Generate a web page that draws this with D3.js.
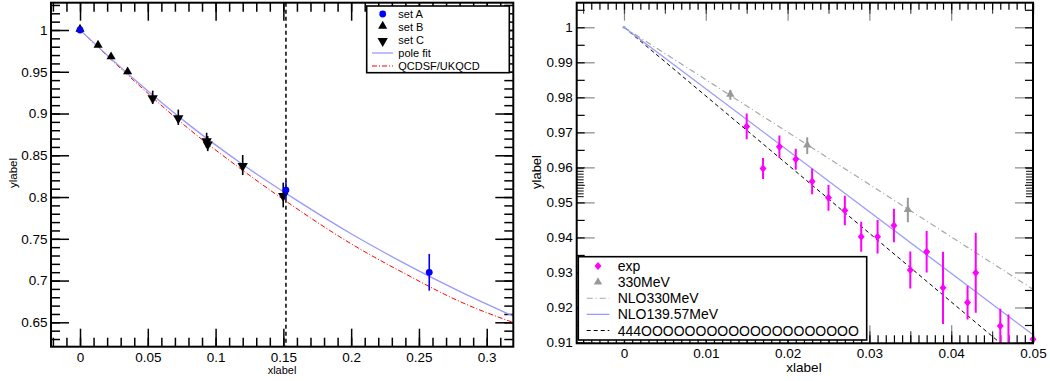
<!DOCTYPE html>
<html>
<head>
<meta charset="utf-8">
<title>form factor</title>
<style>
body { margin: 0; background: #fff; }
svg { display: block; font-family: "Liberation Sans", Arial, sans-serif; }
</style>
</head>
<body>
<svg class="chart"></svg>
<script src="https://cdn.jsdelivr.net/npm/d3@7"></script>
<script>
// ---- left panel data ----
var setA = [[0, 1, 0], [0.1519, 0.8084, 0.011], [0.2576, 0.7099, 0.022]];
var setB = [[0, 1, 0], [0.0133, 0.9808, 0], [0.0229, 0.9669, 0], [0.0351, 0.9489, 0]];
var setC = [[0.0536, 0.9194, 0.008], [0.0725, 0.8955, 0.0092], [0.0934, 0.868, 0.009],
            [0.0942, 0.864, 0.009], [0.12, 0.8383, 0.012], [0.1499, 0.8024, 0.0148]];
var poleFit = [[0, 1], [0.04, 0.941], [0.08, 0.887], [0.12, 0.839], [0.16, 0.796],
               [0.2, 0.756], [0.24, 0.72], [0.28, 0.687], [0.32, 0.657]];
var qcdsf = [[0, 1], [0.04, 0.939], [0.08, 0.882], [0.12, 0.832], [0.16, 0.786],
             [0.2, 0.744], [0.24, 0.708], [0.28, 0.675], [0.32, 0.6495]];
var cutX = 0.1519;
var xTicksL = [0, 0.05, 0.1, 0.15, 0.2, 0.25, 0.3];
var xLabelsL = ["0", "0.05", "0.1", "0.15", "0.2", "0.25", "0.3"];
var yTicksL = [0.65, 0.7, 0.75, 0.8, 0.85, 0.9, 0.95, 1];
var yLabelsL = ["0.65", "0.7", "0.75", "0.8", "0.85", "0.9", "0.95", "1"];
var legendL = ["set A", "set B", "set C", "pole fit", "QCDSF/UKQCD"];

// ---- right panel data ----
var expX = [0.015, 0.017, 0.019, 0.021, 0.023, 0.025, 0.027, 0.029, 0.031, 0.033,
            0.035, 0.037, 0.039, 0.042, 0.043, 0.046, 0.047, 0.05];
var expY = [0.9717, 0.9597, 0.9659, 0.9623, 0.956, 0.9513, 0.9477, 0.9402, 0.9402, 0.9434,
            0.9307, 0.9359, 0.9256, 0.9214, 0.9299, 0.9147, 0.9085, 0.9109];
var expErr = [0.0037, 0.003, 0.0032, 0.003, 0.0037, 0.0037, 0.0042, 0.0043, 0.0048, 0.0048,
              0.0053, 0.0059, 0.0103, 0.0048, 0.0114, 0.0049, 0.0095, 0.0052];
var m330X = [0.013, 0.0224, 0.0347];
var m330Y = [0.9807, 0.9662, 0.9478];
var m330Err = [0.0014, 0.0024, 0.0035];
var nlo330 = [[0, 1], [0.05, 0.9252]];
var nlo139 = [[0, 1], [0.05, 0.9122]];
var line444 = [[0, 1], [0.05, 0.902]];
var xTicksR = [0, 0.01, 0.02, 0.03, 0.04, 0.05];
var xLabelsR = ["0", "0.01", "0.02", "0.03", "0.04", "0.05"];
var yTicksR = [0.91, 0.92, 0.93, 0.94, 0.95, 0.96, 0.97, 0.98, 0.99, 1];
var yLabelsR = ["0.91", "0.92", "0.93", "0.94", "0.95", "0.96", "0.97", "0.98", "0.99", "1"];
var legendR = ["exp", "330MeV", "NLO330MeV", "NLO139.57MeV", "444OOOOOOOOOOOOOOOOOOOO"];

var svg = d3.select('.chart').attr('width', 1050).attr('height', 381);

function tickSet(g, scale, axisFn, values, len, pos, color, w) {
    g.append('g')
        .attr('transform', pos)
        .call(axisFn(scale).tickValues(values).tickSize(-len).tickFormat(''))
        .call(function(s) { s.select('.domain').remove(); })
        .selectAll('line').attr('stroke', color).attr('stroke-width', w || 1.2);
}

function labels(g, scale, axisFn, values, texts, pos, pad, size) {
    g.append('g')
        .attr('transform', pos)
        .call(axisFn(scale).tickValues(values).tickSize(0).tickPadding(pad)
            .tickFormat(function(d, i) { return texts[i]; }))
        .call(function(s) { s.select('.domain').remove(); })
        .selectAll('text').attr('fill', '#000').style('font-size', size + 'px')
        .style('font-family', '"Liberation Sans", Arial, sans-serif');
}

function inDomain(scale, arr) {
    var d = scale.domain();
    return arr.filter(function(v) { return v >= d[0] - 1e-9 && v <= d[1] + 1e-9; });
}

// ================= LEFT PANEL =================
var xL = d3.scaleLinear().domain([-0.0214, 0.3196]).range([51, 513.3]);
var yL = d3.scaleLinear().domain([0.6208, 1.0327]).range([346.7, 2.7]);
var gL = svg.append('g');

gL.append('clipPath').attr('id', 'clipL').append('rect')
    .attr('x', 51).attr('y', 2.7).attr('width', 462.3).attr('height', 344);

var minorXL = inDomain(xL, d3.range(-0.02, 0.33, 0.01));
var minorYL = inDomain(yL, d3.range(0.62, 1.04, 0.01));
tickSet(gL, xL, d3.axisBottom, minorXL, 9, 'translate(0,346.7)', '#000', 1.5);
tickSet(gL, xL, d3.axisBottom, xTicksL, 18, 'translate(0,346.7)', '#000', 1.5);
tickSet(gL, xL, d3.axisTop, minorXL, 9, 'translate(0,2.7)', '#000', 1.5);
tickSet(gL, xL, d3.axisTop, xTicksL, 18, 'translate(0,2.7)', '#000', 1.5);
tickSet(gL, yL, d3.axisLeft, minorYL, 9, 'translate(51,0)', '#000', 1.5);
tickSet(gL, yL, d3.axisLeft, yTicksL, 18, 'translate(51,0)', '#000', 1.5);
tickSet(gL, yL, d3.axisRight, minorYL, 9, 'translate(513.3,0)', '#000', 1.5);
tickSet(gL, yL, d3.axisRight, yTicksL, 18, 'translate(513.3,0)', '#000', 1.5);
labels(gL, xL, d3.axisBottom, xTicksL, xLabelsL, 'translate(0,346.7)', 5.5, 13.5);
labels(gL, yL, d3.axisLeft, yTicksL, yLabelsL, 'translate(51,0)', 3.5, 13.5);

var lineL = d3.line().x(function(d) { return xL(d[0]); }).y(function(d) { return yL(d[1]); })
    .curve(d3.curveMonotoneX);
var curvesL = gL.append('g').attr('clip-path', 'url(#clipL)');
curvesL.append('line')
    .attr('x1', xL(cutX)).attr('x2', xL(cutX)).attr('y1', 2.7).attr('y2', 346.7)
    .attr('stroke', '#000').attr('stroke-width', 1.5).attr('stroke-dasharray', '4,3');
curvesL.append('path').attr('d', lineL(qcdsf)).attr('fill', 'none')
    .attr('stroke', '#ff0000').attr('stroke-width', 1).attr('stroke-dasharray', '5,2,1,2');
curvesL.append('path').attr('d', lineL(poleFit)).attr('fill', 'none')
    .attr('stroke', '#9999ff').attr('stroke-width', 1.3);

function errBars(g, pts, xs, ys, color, w) {
    g.selectAll(null).data(pts.filter(function(p) { return p[2] > 0; })).enter()
        .append('line')
        .attr('x1', function(d) { return xs(d[0]); }).attr('x2', function(d) { return xs(d[0]); })
        .attr('y1', function(d) { return ys(d[1] - d[2]); })
        .attr('y2', function(d) { return ys(d[1] + d[2]); })
        .attr('stroke', color).attr('stroke-width', w);
}

var triUp = d3.symbol().type(d3.symbolTriangle).size(36);
var triDown = d3.symbol().type(d3.symbolTriangle).size(46);

errBars(gL, setC, xL, yL, '#000', 1.6);
gL.selectAll(null).data(setB).enter().append('path')
    .attr('d', triUp())
    .attr('transform', function(d) { return 'translate(' + xL(d[0]) + ',' + (yL(d[1]) - 1) + ')'; })
    .attr('fill', '#000');
gL.selectAll(null).data(setC).enter().append('path')
    .attr('d', triDown())
    .attr('transform', function(d) { return 'translate(' + xL(d[0]) + ',' + (yL(d[1]) + 1) + ') rotate(180)'; })
    .attr('fill', '#000');
errBars(gL, setA, xL, yL, '#0000ff', 1.6);
gL.selectAll(null).data(setA).enter().append('circle')
    .attr('cx', function(d) { return xL(d[0]); })
    .attr('cy', function(d) { return yL(d[1]); })
    .attr('r', 3.4).attr('fill', '#0000ff');

gL.append('rect').attr('x', 51).attr('y', 2.7).attr('width', 462.3).attr('height', 344)
    .attr('fill', 'none').attr('stroke', '#000').attr('stroke-width', 2);

// left legend
var legL = gL.append('g');
legL.append('rect').attr('x', 366.7).attr('y', 6).attr('width', 142.6).attr('height', 66.7)
    .attr('fill', '#fff').attr('stroke', '#000').attr('stroke-width', 1.6);
var rowL = d3.scaleLinear().domain([0, 4]).range([14, 66]);
legL.append('circle').attr('cx', 382.7).attr('cy', rowL(0)).attr('r', 3.4).attr('fill', '#0000ff');
legL.append('path').attr('d', triUp()).attr('fill', '#000')
    .attr('transform', 'translate(382.7,' + (rowL(1) - 1) + ')');
legL.append('path').attr('d', triDown()).attr('fill', '#000')
    .attr('transform', 'translate(382.7,' + (rowL(2) + 1) + ') rotate(180)');
legL.append('line').attr('x1', 372).attr('x2', 393).attr('y1', rowL(3)).attr('y2', rowL(3))
    .attr('stroke', '#9999ff').attr('stroke-width', 1.3);
legL.append('line').attr('x1', 372).attr('x2', 393).attr('y1', rowL(4)).attr('y2', rowL(4))
    .attr('stroke', '#ff0000').attr('stroke-width', 1).attr('stroke-dasharray', '5,2,1,2');
legL.selectAll(null).data(legendL).enter().append('text')
    .attr('x', 398.3).attr('y', function(d, i) { return rowL(i) + 4; })
    .style('font-size', '11px').text(function(d) { return d; });

gL.append('text').attr('x', 282).attr('y', 374).attr('text-anchor', 'middle')
    .style('font-size', '11px').text('xlabel');
gL.append('text').attr('transform', 'translate(16.5,173) rotate(-90)').attr('text-anchor', 'middle')
    .style('font-size', '11.5px').text('ylabel');

// ================= RIGHT PANEL =================
var xR = d3.scaleLinear().domain([-0.00578, 0.05]).range([576.7, 1033]);
var yR = d3.scaleLinear().domain([0.90977, 1.00702]).range([343.3, 2.7]);
var gR = svg.append('g');

gR.append('clipPath').attr('id', 'clipR').append('rect')
    .attr('x', 576.7).attr('y', 2.7).attr('width', 456.3).attr('height', 340.6);

var minorXR = inDomain(xR, d3.range(-0.005, 0.0505, 0.001));
var midXR = inDomain(xR, d3.range(-0.005, 0.0505, 0.005));
var minorYR = inDomain(yR, d3.range(0.91, 1.0075, 0.005));
var denseYR = d3.range(0.9518, 0.96, 0.0008);
tickSet(gR, xR, d3.axisBottom, xTicksR, 18, 'translate(0,343.3)', '#888');
tickSet(gR, xR, d3.axisBottom, midXR, 12, 'translate(0,343.3)', '#444');
tickSet(gR, xR, d3.axisBottom, minorXR, 8, 'translate(0,343.3)', '#000');
tickSet(gR, xR, d3.axisTop, xTicksR, 18, 'translate(0,2.7)', '#888');
tickSet(gR, xR, d3.axisTop, midXR, 11, 'translate(0,2.7)', '#444');
tickSet(gR, xR, d3.axisTop, minorXR, 7, 'translate(0,2.7)', '#000');
tickSet(gR, yR, d3.axisLeft, yTicksR, 18, 'translate(576.7,0)', '#888');
tickSet(gR, yR, d3.axisLeft, minorYR, 8, 'translate(576.7,0)', '#000');
tickSet(gR, yR, d3.axisLeft, denseYR, 7, 'translate(576.7,0)', '#333');
tickSet(gR, yR, d3.axisRight, yTicksR, 18, 'translate(1033,0)', '#888');
tickSet(gR, yR, d3.axisRight, minorYR, 8, 'translate(1033,0)', '#000');
tickSet(gR, yR, d3.axisRight, denseYR, 7, 'translate(1033,0)', '#333');
labels(gR, xR, d3.axisBottom, xTicksR, xLabelsR, 'translate(0,343.3)', 5, 13.5);
labels(gR, yR, d3.axisLeft, yTicksR, yLabelsR, 'translate(576.7,0)', 4, 13.5);

var lineR = d3.line().x(function(d) { return xR(d[0]); }).y(function(d) { return yR(d[1]); });
var curvesR = gR.append('g').attr('clip-path', 'url(#clipR)');
curvesR.append('path').attr('d', lineR(nlo330)).attr('fill', 'none')
    .attr('stroke', '#a8a8a8').attr('stroke-width', 1.2).attr('stroke-dasharray', '6,3,1,3');
curvesR.append('path').attr('d', lineR(line444)).attr('fill', 'none')
    .attr('stroke', '#000').attr('stroke-width', 1).attr('stroke-dasharray', '4,3');
curvesR.append('path').attr('d', lineR(nlo139)).attr('fill', 'none')
    .attr('stroke', '#9999ff').attr('stroke-width', 1.3);
curvesR.append('circle').attr('cx', xR(0)).attr('cy', yR(1)).attr('r', 1.5).attr('fill', '#9999ff');

var expPts = expX.map(function(x, i) { return [x, expY[i], expErr[i]]; });
var m330Pts = m330X.map(function(x, i) { return [x, m330Y[i], m330Err[i]]; });
var barsR = gR.append('g').attr('clip-path', 'url(#clipR)');
errBars(barsR, m330Pts, xR, yR, '#999', 2);
errBars(barsR, expPts, xR, yR, '#ff00ff', 2);

var triGrey = d3.symbol().type(d3.symbolTriangle).size(30);
var diamond = d3.symbol().type(d3.symbolSquare).size(24);
gR.selectAll(null).data(m330Pts).enter().append('path')
    .attr('d', triGrey())
    .attr('transform', function(d) { return 'translate(' + xR(d[0]) + ',' + (yR(d[1]) - 0.5) + ')'; })
    .attr('fill', '#999');
gR.selectAll(null).data(expPts.filter(function(d) { return d[1] >= 0.9098; })).enter().append('path')
    .attr('d', diamond())
    .attr('transform', function(d) { return 'translate(' + xR(d[0]) + ',' + yR(d[1]) + ') scale(1,1.15) rotate(45)'; })
    .attr('fill', '#ff00ff');

gR.append('rect').attr('x', 576.7).attr('y', 2.7).attr('width', 456.3).attr('height', 340.6)
    .attr('fill', 'none').attr('stroke', '#000').attr('stroke-width', 2);

// right legend
var legR = gR.append('g');
legR.append('rect').attr('x', 578.3).attr('y', 256.7).attr('width', 288.4).attr('height', 83.3)
    .attr('fill', '#fff').attr('stroke', '#000').attr('stroke-width', 1.6);
var rowR = d3.scaleLinear().domain([0, 4]).range([266, 330.5]);
legR.append('path').attr('d', diamond()).attr('fill', '#ff00ff')
    .attr('transform', 'translate(598,' + rowR(0) + ') scale(1,1.15) rotate(45)');
legR.append('path').attr('d', triGrey()).attr('fill', '#999')
    .attr('transform', 'translate(598,' + rowR(1) + ')');
legR.append('line').attr('x1', 586.7).attr('x2', 609.3).attr('y1', rowR(2)).attr('y2', rowR(2))
    .attr('stroke', '#a8a8a8').attr('stroke-width', 1.2).attr('stroke-dasharray', '6,3,1,3');
legR.append('line').attr('x1', 586.7).attr('x2', 609.3).attr('y1', rowR(3)).attr('y2', rowR(3))
    .attr('stroke', '#9999ff').attr('stroke-width', 1.3);
legR.append('line').attr('x1', 586.7).attr('x2', 609.3).attr('y1', rowR(4)).attr('y2', rowR(4))
    .attr('stroke', '#000').attr('stroke-width', 1).attr('stroke-dasharray', '4,3');
legR.selectAll(null).data(legendR).enter().append('text')
    .attr('x', 617.7).attr('y', function(d, i) { return rowR(i) + 5; })
    .style('font-size', '14px').text(function(d) { return d; });

gR.append('text').attr('x', 804).attr('y', 372).attr('text-anchor', 'middle')
    .style('font-size', '13.5px').text('xlabel');
gR.append('text').attr('transform', 'translate(540.5,172) rotate(-90)').attr('text-anchor', 'middle')
    .style('font-size', '13px').text('ylabel');
</script>
</body>
</html>
